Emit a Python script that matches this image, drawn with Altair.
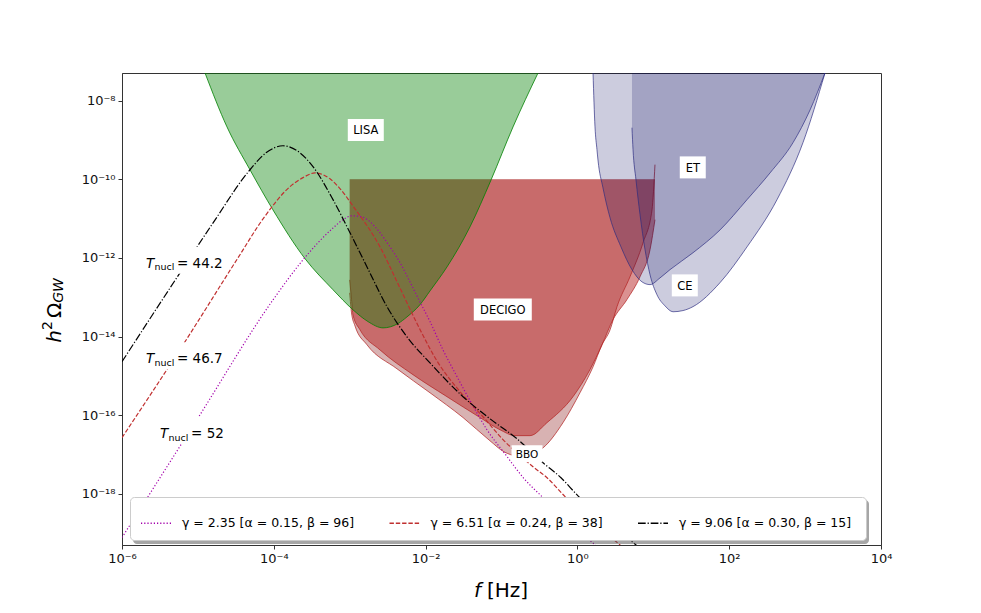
import altair as alt
import pandas as pd

# ---------------- values ----------------
# log10(f / Hz) and log10(h^2 Omega_GW)
LISA_LOGF = [-4.906, -4.617, -4.314, -4.011, -3.589, -3.220, -2.957, -2.759, -2.561,
             -2.364, -2.245, -2.074, -1.942, -1.718, -1.415, -1.138, -0.848, -0.519]
LISA_LOGH = [-7.30, -8.67, -9.76, -10.78, -12.02, -12.81, -13.32, -13.62, -13.78,
             -13.67, -13.50, -13.19, -12.84, -12.23, -11.21, -10.02, -8.67, -7.30]

DECIGO_LOGF = [-3.0, -2.976, -2.957, -2.864, -2.601, -2.166, -1.718, -1.283, -1.020, -0.822,
               -0.625, -0.401, -0.058, 0.166, 0.324, 0.469, 0.653, 0.825, 0.957, 1.022]
DECIGO_LOGH = [-12.56, -13.06, -13.45, -13.83, -14.34, -14.97, -15.53, -16.06, -16.37, -16.52,
               -16.52, -16.19, -15.53, -14.84, -14.21, -13.57, -13.06, -12.48, -11.79, -11.03]

BBO_LOGF = [-3.0, -2.976, -2.930, -2.772, -2.377, -1.942, -1.507, -1.152, -0.967, -0.796, -0.625,
            -0.453, -0.190, 0.034, 0.206, 0.324, 0.430, 0.522, 0.693, 0.864, 0.983, 1.022]
BBO_LOGH = [-12.89, -13.40, -13.73, -14.21, -14.82, -15.43, -16.06, -16.65, -16.93, -17.03, -17.00,
            -16.83, -16.19, -15.43, -14.77, -14.21, -13.83, -13.24, -12.48, -11.62, -10.78, -9.63]

SPACE_CAP_LOGH = -10.0  # upper edge of the DECIGO / BBO bands

ET_LOGF = [0.206, 0.232, 0.258, 0.271, 0.337, 0.430, 0.574, 0.719, 0.851, 0.957,
           1.088, 1.220, 1.523, 1.879, 2.235, 2.538, 2.841, 3.065, 3.262]
ET_LOGH = [-7.30, -8.67, -9.25, -9.51, -10.22, -10.98, -11.72, -12.30, -12.61, -12.68,
           -12.51, -12.30, -11.87, -11.29, -10.52, -9.84, -9.07, -8.24, -7.30]

CE_LOGF = [0.719, 0.733, 0.772, 0.825, 0.891, 0.957, 1.049, 1.154, 1.260, 1.391,
           1.523, 1.879, 2.235, 2.630, 2.972, 3.262]
CE_LOGH = [-8.69, -9.25, -10.02, -10.90, -11.79, -12.43, -12.94, -13.22, -13.37, -13.34,
           -13.24, -12.63, -11.72, -10.52, -9.07, -7.30]

GAMMA_LABELS = ["γ = 2.35 [α = 0.15,  β = 96]",
                "γ = 6.51 [α = 0.24,  β = 38]",
                "γ = 9.06 [α = 0.30,  β = 15]"]

G1_LOGF = [-6.0, -4.999, -4.011, -3.615, -3.220, -3.088, -2.970, -2.838, -2.733, -2.601,
           -2.469, -2.337, -2.206, -2.074, -1.942, -1.771, -1.586, -1.415, -1.191, -0.928,
           -0.704, -0.466, -0.097, 0.245]
G1_LOGH = [-19.11, -16.07, -13.07, -12.05, -11.24, -11.03, -10.93, -10.96, -11.08, -11.36,
           -11.72, -12.12, -12.61, -13.12, -13.62, -14.34, -15.02, -15.63, -16.37, -17.05,
           -17.61, -18.07, -18.73, -19.32]

G2_LOGF = [-6.0, -5.196, -4.472, -4.142, -3.787, -3.615, -3.457, -3.260, -3.128, -2.957, -2.601,
           -2.364, -2.113, -1.850, -1.547, -1.257, -0.980, -0.585, -0.400, -0.163, 0.206, 0.574]
G2_LOGH = [-16.57, -14.21, -12.00, -11.01, -10.19, -9.96, -9.84, -9.99, -10.24, -10.68, -11.72,
           -12.66, -13.67, -14.62, -15.40, -16.01, -16.62, -17.31, -17.59, -18.07, -18.71, -19.32]

G3_LOGF = [-6.0, -5.236, -4.800, -4.314, -4.103, -3.879, -3.655, -3.484, -3.220, -2.996, -2.772,
           -2.509, -2.245, -1.942, -1.507, -1.152, -0.796, -0.453, -0.216, 0.008, 0.390, 0.785]
G3_LOGH = [-14.64, -12.38, -11.11, -9.76, -9.33, -9.15, -9.33, -9.68, -10.52, -11.36, -12.23,
           -13.24, -14.01, -14.67, -15.53, -16.09, -16.60, -17.21, -17.59, -18.05, -18.68, -19.32]

SENS_NAMES = ["LISA", "DECIGO", "ET", "CE", "BBO"]
SENS_LABEL_LOGF = [-2.788, -0.983, 1.520, 1.415, -0.664]
SENS_LABEL_LOGH = [-8.75, -13.31, -9.70, -12.70, -16.98]

T_NUCL = ["44.2", "46.7", "52"]
T_LABEL_LOGF = [-5.684, -5.684, -5.499]
T_LABEL_LOGH = [-12.25, -14.68, -16.58]

X_TICKS = [1e-6, 1e-4, 1e-2, 1.0, 1e2, 1e4]
Y_TICKS = [1e-18, 1e-16, 1e-14, 1e-12, 1e-10, 1e-8]
X_DOMAIN = [1e-6, 1e4]
Y_DOMAIN = [10 ** -19.3, 10 ** -7.3]

# ---------------- styles ----------------
FONT = "DejaVu Sans"
W, H = 759, 472
SENS_BOX = {"LISA": (36, 22, 11.5), "DECIGO": (58, 22, 11.5), "ET": (26, 22, 11.5),
            "CE": (26, 22, 11.5), "BBO": (31, 17, 10.5)}
T_BOX_W = {"44.2": 86, "46.7": 86, "52": 72}
INTERP = "monotone"
LEG_X, LEG_Y, LEG_W, LEG_H = 8, 424, 736, 44


def table(logf, logh):
    return pd.DataFrame({"f": [10.0 ** v for v in logf], "h": [10.0 ** v for v in logh]})


EXP = ("'10' + replace(replace(replace(replace(replace(replace(replace(replace(replace(replace(replace("
       "toString(round(log(datum.value) / LN10)), '-', '⁻'), '0', '⁰'), '1', '¹'), '2', '²'), '3', '³'),"
       " '4', '⁴'), '5', '⁵'), '6', '⁶'), '7', '⁷'), '8', '⁸'), '9', '⁹')")

XS = alt.Scale(type="log", domain=X_DOMAIN, nice=False)
YS = alt.Scale(type="log", domain=Y_DOMAIN, nice=False)
XA = alt.Axis(values=X_TICKS, labelExpr=EXP, title=None, grid=False, tickSize=4,
              labelFlush=False, labelOverlap=False, labelPadding=3)
YA = alt.Axis(values=Y_TICKS, labelExpr=EXP, title=None, grid=False, tickSize=4,
              labelOverlap=False, labelPadding=3)


def xy(yfield="h"):
    return dict(x=alt.X("f:Q", scale=XS, axis=XA), y=alt.Y(yfield + ":Q", scale=YS, axis=YA))


layers = []

# --- DECIGO / BBO bands ---
cap = 10.0 ** SPACE_CAP_LOGH
for logf, logh, fill, op in [(BBO_LOGF, BBO_LOGH, "rgb(144,35,35)", 0.35),
                             (DECIGO_LOGF, DECIGO_LOGH, "rgb(184,36,36)", 0.5)]:
    df = table(logf, logh)
    df["cap"] = cap
    layers.append(alt.Chart(df).transform_calculate(hc="min(datum.h, datum.cap)")
                  .mark_area(color=fill, opacity=op, clip=True, interpolate=INTERP)
                  .encode(**xy("hc"), y2=alt.Y2("cap:Q")))
for logf, logh in [(BBO_LOGF, BBO_LOGH), (DECIGO_LOGF, DECIGO_LOGH)]:
    layers.append(alt.Chart(table(logf, logh)).mark_line(color="#b22222", strokeWidth=0.8,
                                                         opacity=0.9, clip=True,
                                                         interpolate=INTERP).encode(**xy()))


def upper_fill(logf, logh, color, op):
    df = table(logf, logh)
    df["top"] = Y_DOMAIN[1]
    return alt.Chart(df).mark_area(color=color, opacity=op, clip=True, interpolate=INTERP).encode(
        **xy(), y2=alt.Y2("top:Q"))


# --- LISA ---
layers.append(upper_fill(LISA_LOGF, LISA_LOGH, "green", 0.4))
layers.append(alt.Chart(table(LISA_LOGF, LISA_LOGH)).mark_line(
    color="green", strokeWidth=0.8, clip=True, interpolate=INTERP).encode(**xy()))

# --- ET / CE ---
for logf, logh in [(ET_LOGF, ET_LOGH), (CE_LOGF, CE_LOGH)]:
    layers.append(upper_fill(logf, logh, "#00005a", 0.2))
for logf, logh in [(ET_LOGF, ET_LOGH), (CE_LOGF, CE_LOGH)]:
    layers.append(alt.Chart(table(logf, logh)).mark_line(color="#2a2a80", strokeWidth=0.8,
                                                         opacity=0.85, clip=True,
                                                         interpolate=INTERP).encode(**xy()))

# --- GW spectra ---
parts = []
for lab, logf, logh in zip(GAMMA_LABELS, [G1_LOGF, G2_LOGF, G3_LOGF], [G1_LOGH, G2_LOGH, G3_LOGH]):
    d = table(logf, logh)
    d["series"] = lab
    parts.append(d)
gw = pd.concat(parts, ignore_index=True)

leg = alt.Legend(title=None, orient="none", legendX=LEG_X, legendY=LEG_Y, direction="horizontal",
                 columns=3, symbolType="stroke", symbolSize=900, symbolStrokeWidth=1.5,
                 labelFont=FONT, labelFontSize=12.5, labelLimit=400, labelOffset=10,
                 columnPadding=27.5, padding=10, fillColor="white", strokeColor="#cccccc",
                 cornerRadius=4, labelColor="black")
color_scale = alt.Scale(domain=GAMMA_LABELS, range=["#a300ab", "#c03030", "black"])
dash_scale = alt.Scale(domain=GAMMA_LABELS, range=[[1.2, 2.0], [4.4, 1.9], [7.7, 1.9, 1.2, 1.9]])
layers.append(alt.Chart(gw).mark_line(strokeWidth=1.2, clip=True, interpolate=INTERP).encode(
    **xy(),
    color=alt.Color("series:N", scale=color_scale, legend=leg, sort=GAMMA_LABELS),
    strokeDash=alt.StrokeDash("series:N", scale=dash_scale, legend=leg, sort=GAMMA_LABELS),
))

# --- label boxes + texts ---
sens = table(SENS_LABEL_LOGF, SENS_LABEL_LOGH)
sens["name"] = SENS_NAMES
sens["path"] = [
    "M{a},{b}L{c},{b}L{c},{d}L{a},{d}Z".format(a=-SENS_BOX[n][0] / 2, b=-SENS_BOX[n][1] / 2,
                                               c=SENS_BOX[n][0] / 2, d=SENS_BOX[n][1] / 2)
    for n in SENS_NAMES]

tl = table(T_LABEL_LOGF, T_LABEL_LOGH)
tl["val"] = ["= " + v for v in T_NUCL]
tl["path"] = ["M-5,-21L{w},-21L{w},6L-5,6Z".format(w=T_BOX_W[v] - 5) for v in T_NUCL]

box_mark = dict(filled=True, color="white", opacity=1, strokeWidth=0, clip=False)
layers.append(alt.Chart(sens).mark_point(**box_mark).encode(
    **xy(), shape=alt.Shape("path:N", scale=None), size=alt.value(4)))
layers.append(alt.Chart(tl).mark_point(**box_mark).encode(
    **xy(), shape=alt.Shape("path:N", scale=None), size=alt.value(4)))

for n in SENS_NAMES:
    layers.append(alt.Chart(sens[sens["name"] == n]).mark_text(
        font=FONT, fontSize=SENS_BOX[n][2], color="black", align="center", baseline="alphabetic",
        dy=0.36 * SENS_BOX[n][2]).encode(**xy(), text="name:N"))

layers.append(alt.Chart(tl).mark_text(font=FONT, fontSize=13.5, fontStyle="italic", color="black",
                                      align="left", baseline="alphabetic", text="T")
              .encode(**xy()))
layers.append(alt.Chart(tl).mark_text(font=FONT, fontSize=9.5, color="black", align="left",
                                      baseline="alphabetic", dx=8.5, dy=2.5, text="nucl")
              .encode(**xy()))
layers.append(alt.Chart(tl).mark_text(font=FONT, fontSize=13.5, color="black", align="left",
                                      baseline="alphabetic", dx=31)
              .encode(**xy(), text="val:N"))

# --- axis titles (with sub/superscripts) ---
one = pd.DataFrame({"k": [0]})
title_parts = [
    # text, x, y, size, style, angle
    ("h", -61.5, 269.7, 20, "italic", 270),
    ("2", -70.0, 257.0, 14, "normal", 270),
    ("Ω", -61.5, 245.1, 20, "normal", 270),
    ("GW", -59.0, 229.8, 14, "italic", 270),
    ("f", 352.0, 524.0, 20, "italic", 0),
    ("[Hz]", 365.0, 524.0, 20, "normal", 0),
]
for txt, px, py, fs, st, ang in title_parts:
    layers.append(alt.Chart(one).mark_text(text=txt, font=FONT, fontSize=fs, fontStyle=st,
                                           angle=ang, align="left", baseline="alphabetic",
                                           color="black")
                  .encode(x=alt.value(px), y=alt.value(py)))

# --- legend shadow (legend box is drawn on top of it) ---
layers.append(alt.Chart(one).mark_rect(color="#4d4d4d", opacity=0.5, cornerRadius=4).encode(
    x=alt.value(LEG_X + 3), x2=alt.value(LEG_X + LEG_W + 3),
    y=alt.value(LEG_Y + 3), y2=alt.value(LEG_Y + LEG_H + 3)))

chart = alt.layer(*layers).properties(
    width=W, height=H,
    autosize=alt.AutoSizeParams(type="none"),
    padding={"left": 114, "top": 65, "right": 92, "bottom": 60},
    background="white",
).configure_view(
    stroke="#333333", strokeWidth=1
).configure_axis(
    labelFont=FONT, labelFontSize=13, labelColor="#111111", tickColor="#333333",
    domainColor="#333333", tickWidth=1, domainWidth=1
)

chart.save("out.html", embed_options={"renderer": "svg", "actions": False})
